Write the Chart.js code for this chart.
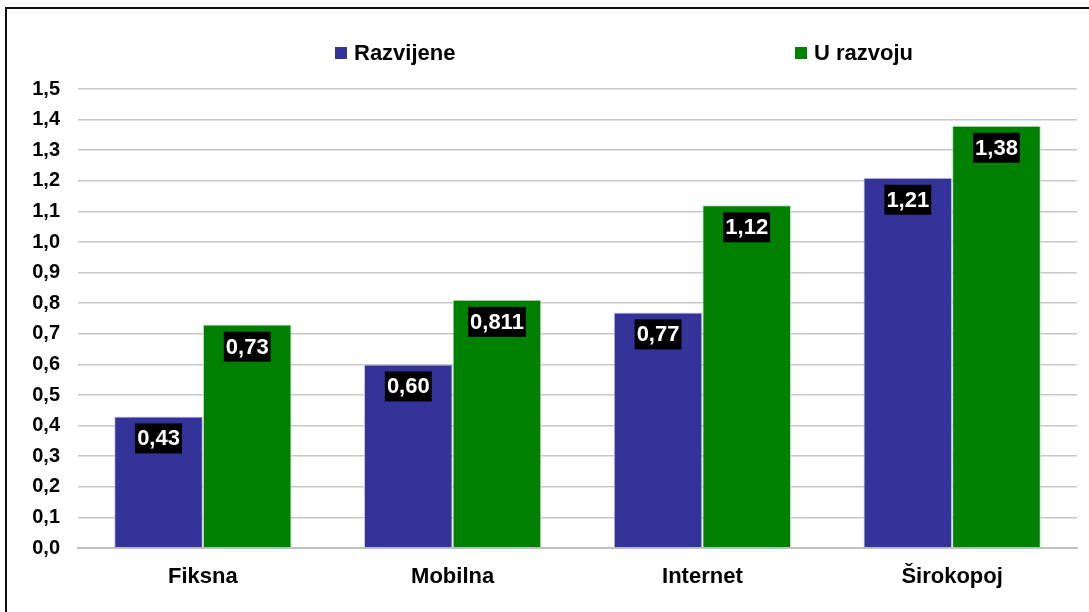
<!DOCTYPE html>
<html>
<head>
<meta charset="utf-8">
<script src="https://cdn.jsdelivr.net/npm/chart.js@4/dist/chart.umd.min.js"></script>
<style>
  html, body { margin: 0; padding: 0; background: #fff; overflow: hidden; }
  #wrap { position: relative; width: 1089px; height: 612px; }
  #frame { position: absolute; left: 5px; top: 7px; right: -20px; bottom: -20px; border: 2px solid #111; pointer-events: none; }
  canvas { position: absolute; left: 0; top: 0; }
</style>
</head>
<body>
<div id="wrap">
  <canvas id="chart" width="1089" height="612"></canvas>
  <div id="frame"></div>
</div>
<script>
// categories and series
const categories = ["Fiksna", "Mobilna", "Internet", "Širokopoj"];
const seriesNames = ["Razvijene", "U razvoju"];
const razvijene = [0.43, 0.60, 0.77, 1.21];
const uRazvoju = [0.73, 0.811, 1.12, 1.38];
const razvijeneLabels = ["0,43", "0,60", "0,77", "1,21"];
const uRazvojuLabels = ["0,73", "0,811", "1,12", "1,38"];
const yTickLabels = ["0,0","0,1","0,2","0,3","0,4","0,5","0,6","0,7","0,8","0,9","1,0","1,1","1,2","1,3","1,4","1,5"];

const FONT = '"Liberation Sans", Arial, sans-serif';
const blue = "#333399";
const green = "#008000";

// white-on-black value boxes near the top of each bar
const valueBoxes = {
  id: "valueBoxes",
  afterDatasetsDraw(chart) {
    const ctx = chart.ctx;
    ctx.save();
    ctx.font = "bold 22px " + FONT;
    ctx.textAlign = "center";
    ctx.textBaseline = "middle";
    chart.data.datasets.forEach((ds, di) => {
      const meta = chart.getDatasetMeta(di);
      meta.data.forEach((bar, i) => {
        const txt = ds.valueLabels[i];
        const w = ctx.measureText(txt).width + 4;
        const cy = bar.y + 22;
        ctx.fillStyle = "#000";
        ctx.fillRect(bar.x - w / 2, cy - 15, w, 30);
        ctx.fillStyle = "#fff";
        ctx.fillText(txt, bar.x, cy + 1);
      });
    });
    ctx.restore();
  }
};

// legend spread wide across the top, as in the original
const wideLegend = {
  id: "wideLegend",
  afterDraw(chart) {
    const ctx = chart.ctx;
    const spots = [335, 795];
    ctx.save();
    ctx.font = "bold 22px " + FONT;
    ctx.textBaseline = "middle";
    ctx.textAlign = "left";
    chart.data.datasets.forEach((ds, i) => {
      const x = spots[i];
      ctx.fillStyle = ds.backgroundColor;
      ctx.fillRect(x, 47, 12, 12);
      ctx.fillStyle = "#000";
      ctx.fillText(ds.label, x + 19, 54);
    });
    ctx.restore();
  }
};

new Chart(document.getElementById("chart"), {
  type: "bar",
  data: {
    labels: categories,
    datasets: [
      { label: seriesNames[0], data: razvijene, valueLabels: razvijeneLabels,
        backgroundColor: blue, borderColor: "#c8c8dc", borderWidth: 1 },
      { label: seriesNames[1], data: uRazvoju, valueLabels: uRazvojuLabels,
        backgroundColor: green, borderColor: "#c8dcc8", borderWidth: 1 }
    ]
  },
  options: {
    responsive: false,
    animation: false,
    layout: { padding: { top: 89, right: 12, left: 0, bottom: 0 } },
    datasets: { bar: { categoryPercentage: 0.71, barPercentage: 1.0 } },
    plugins: { legend: { display: false }, tooltip: { enabled: false } },
    scales: {
      x: {
        grid: { display: false, drawTicks: false },
        border: { display: true, color: "#c0c0c0", width: 2 },
        ticks: { color: "#000", font: { family: FONT, size: 22, weight: "bold" }, padding: 16 },
        afterFit(scale) { scale.height = 64; }
      },
      y: {
        min: 0, max: 1.5,
        grid: { color: "#c8c8c8", lineWidth: 1.5, drawTicks: false },
        border: { display: false },
        ticks: {
          stepSize: 0.1, autoSkip: false, color: "#000", padding: 18,
          font: { family: FONT, size: 20, weight: "bold" },
          callback: (v, i) => yTickLabels[i]
        },
        afterFit(scale) { scale.width = 78; }
      }
    }
  },
  plugins: [valueBoxes, wideLegend]
});
</script>
</body>
</html>
